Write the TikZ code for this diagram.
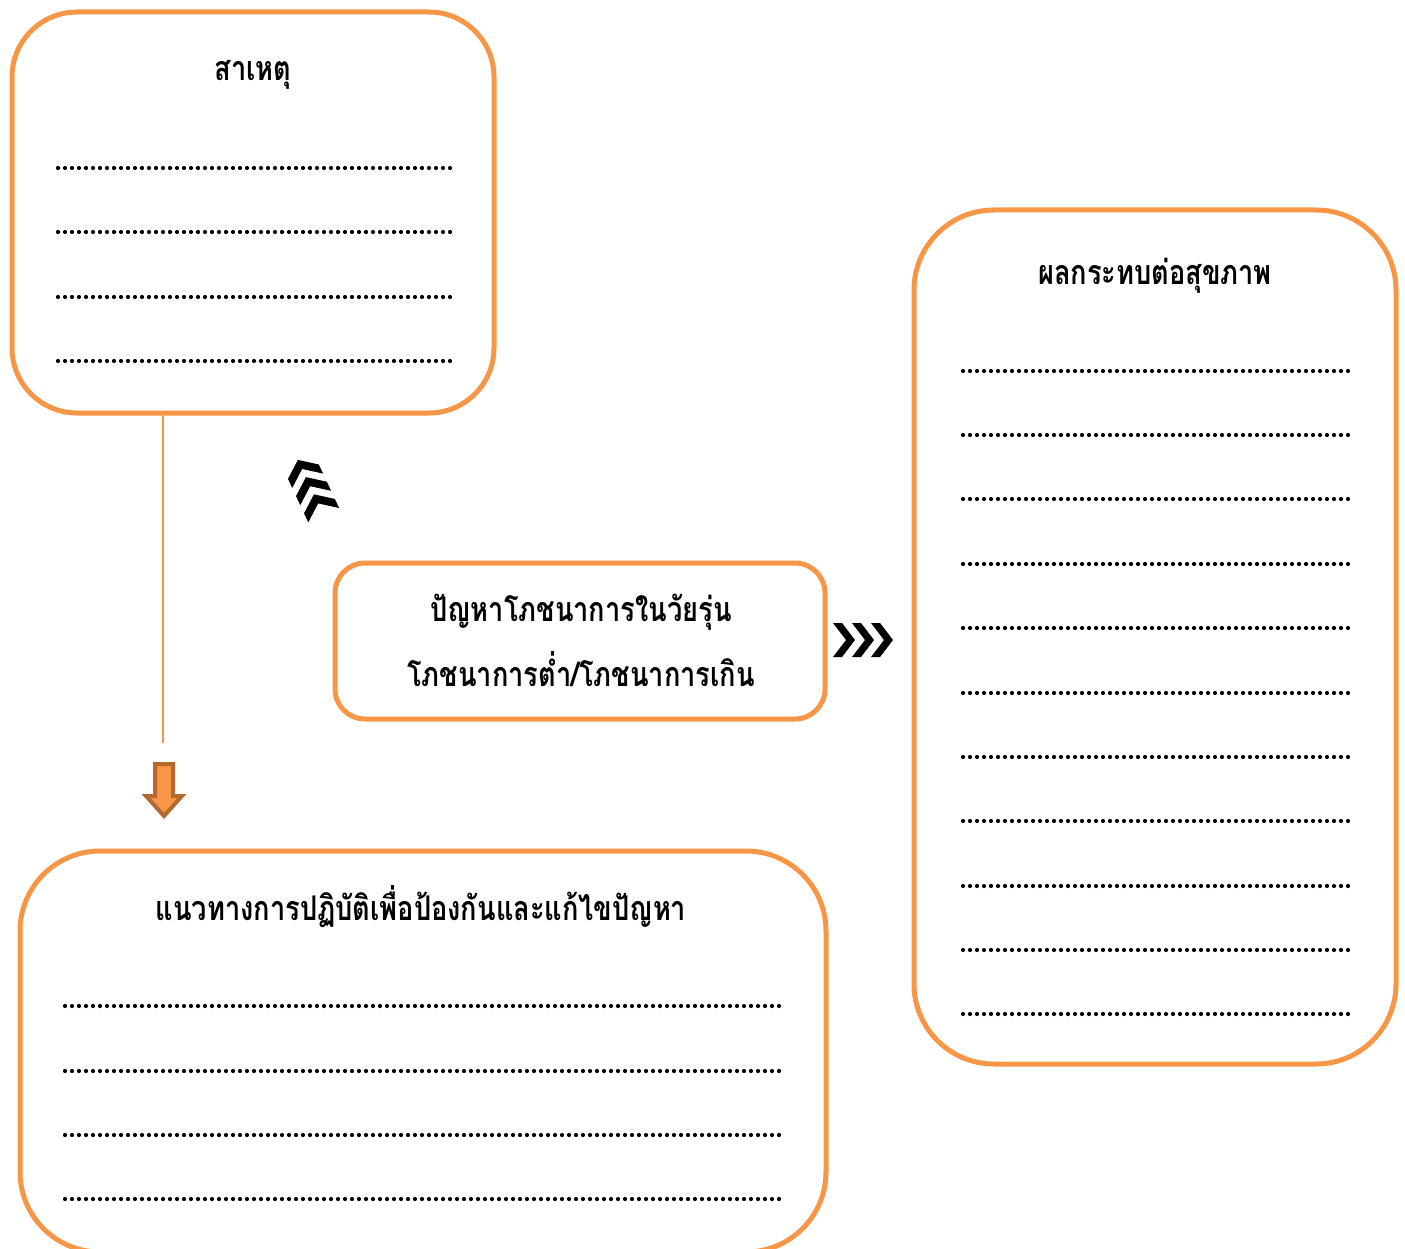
\documentclass[tikz,border=0pt]{standalone}
\usepackage{fontspec}
\newfontfamily\thaifont[Script=Thai, FakeStretch=0.8]{Loma}
\definecolor{boxorange}{HTML}{F79646}
\definecolor{arrowbrown}{HTML}{B5692F}
\begin{document}
\begin{tikzpicture}[x=1pt,y=-1pt,
  box/.style={draw=boxorange, line width=5pt, fill=none},
  title/.style={font=\thaifont\bfseries\fontsize{34}{40}\selectfont, anchor=base, inner sep=0pt},
  dotline/.style={line width=4.2pt, line cap=round, dash pattern=on 0pt off 7pt},
  chev/.style={fill=black}
]
\clip (0,0) rectangle (1405,1249);
% boxes
\draw[box, rounded corners=65pt] (12,12) rectangle (494,413);
\node[inner sep=0pt] (cause) at (253,212.5) {};
\draw[box, rounded corners=30pt] (335,563) rectangle (825,719);
\node[inner sep=0pt] (problem) at (580,641) {};
\draw[box, rounded corners=80pt] (914,210) rectangle (1396,1064);
\node[inner sep=0pt] (effect) at (1155,637) {};
\draw[box, rounded corners=80pt] (20,851) rectangle (826,1252);
\node[inner sep=0pt] (solution) at (423,1050) {};
% titles
\node[title] (tcause) at (253,81) {สาเหตุ};
\node[title] (teffect) at (1155,284) {ผลกระทบต่อสุขภาพ};
\node[title] (tprob1) at (581,621) {ปัญหาโภชนาการในวัยรุ่น};
\node[title] (tprob2) at (581,686) {โภชนาการต่ำ/โภชนาการเกิน};
\node[title] (tsol) at (421,920) {แนวทางการปฏิบัติเพื่อป้องกันและแก้ไขปัญหา};
% dotted lines
\foreach \y in {168,232,297,361} \draw[dotline] (58,\y) -- (452,\y);
\foreach \y in {371,435,499,564,628,693,757,821,886,950,1014} \draw[dotline] (963,\y) -- (1350,\y);
\foreach \y in {1006,1071,1135,1199} \draw[dotline] (65,\y) -- (783,\y);
% connector line and down arrow
\coordinate (cbottom) at (163,413);
\coordinate (arrowtop) at (163,743);
\draw[boxorange, line width=2pt] (cbottom) -- (arrowtop);
\draw[fill=boxorange, draw=arrowbrown, line width=4pt, line join=miter]
  (155,764) -- (173,764) -- (173,796) -- (182,796) -- (164,816) -- (146,796) -- (155,796) -- cycle;
% chevrons right
\begin{scope}[shift={(863,640)}]
  \foreach \i in {0,1,2}
    \fill[chev] ({-30+19*\i},-17) -- ({-21+19*\i},-17) -- ({-8+19*\i},0) -- ({-21+19*\i},17) -- ({-30+19*\i},17) -- ({-17+19*\i},0) -- cycle;
\end{scope}
% chevrons upper-left
\begin{scope}[shift={(311,488)}, rotate=115, scale=1.0]
  \foreach \i in {0,1,2}
    \fill[chev] ({-30+19*\i},-17) -- ({-20+19*\i},-17) -- ({-7+19*\i},0) -- ({-20+19*\i},17) -- ({-30+19*\i},17) -- ({-17+19*\i},0) -- cycle;
\end{scope}
\end{tikzpicture}
\end{document}
